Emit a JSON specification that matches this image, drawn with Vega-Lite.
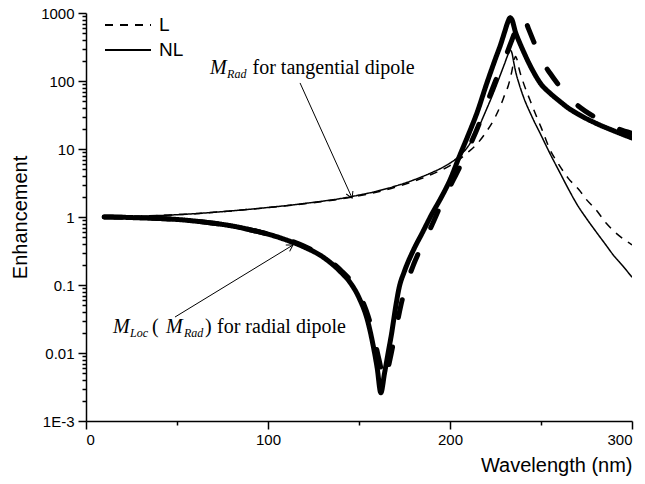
{
  "$schema": "https://vega.github.io/schema/vega-lite/v6.json",
  "width": 546,
  "height": 408,
  "autosize": {"type": "none"},
  "padding": {"left": 86, "top": 13, "right": 13, "bottom": 63},
  "background": "white",
  "config": {
    "view": {"stroke": null},
    "axis": {
      "domainColor": "black", "tickColor": "black", "labelColor": "black", "titleColor": "black",
      "labelFont": "Liberation Sans", "titleFont": "Liberation Sans",
      "labelFontSize": 15, "titleFontSize": 20, "titleFontWeight": "normal",
      "domainWidth": 1.5, "tickWidth": 1.5, "grid": false
    }
  },
  "datasets": {
    "curves": [
      {"dipole": "radial", "model": "NL", "lam": 10, "val": 1.0},
      {"dipole": "radial", "model": "NL", "lam": 20, "val": 0.99},
      {"dipole": "radial", "model": "NL", "lam": 30, "val": 0.97},
      {"dipole": "radial", "model": "NL", "lam": 40, "val": 0.95},
      {"dipole": "radial", "model": "NL", "lam": 50, "val": 0.92},
      {"dipole": "radial", "model": "NL", "lam": 60, "val": 0.87},
      {"dipole": "radial", "model": "NL", "lam": 70, "val": 0.81},
      {"dipole": "radial", "model": "NL", "lam": 80, "val": 0.74},
      {"dipole": "radial", "model": "NL", "lam": 90, "val": 0.65},
      {"dipole": "radial", "model": "NL", "lam": 100, "val": 0.56},
      {"dipole": "radial", "model": "NL", "lam": 110, "val": 0.46},
      {"dipole": "radial", "model": "NL", "lam": 120, "val": 0.36},
      {"dipole": "radial", "model": "NL", "lam": 130, "val": 0.26},
      {"dipole": "radial", "model": "NL", "lam": 140, "val": 0.155},
      {"dipole": "radial", "model": "NL", "lam": 145, "val": 0.11},
      {"dipole": "radial", "model": "NL", "lam": 150, "val": 0.065},
      {"dipole": "radial", "model": "NL", "lam": 155, "val": 0.028},
      {"dipole": "radial", "model": "NL", "lam": 158, "val": 0.012},
      {"dipole": "radial", "model": "NL", "lam": 160, "val": 0.006},
      {"dipole": "radial", "model": "NL", "lam": 162, "val": 0.0026},
      {"dipole": "radial", "model": "NL", "lam": 164, "val": 0.005},
      {"dipole": "radial", "model": "NL", "lam": 166, "val": 0.010},
      {"dipole": "radial", "model": "NL", "lam": 168, "val": 0.02},
      {"dipole": "radial", "model": "NL", "lam": 170, "val": 0.045},
      {"dipole": "radial", "model": "NL", "lam": 172, "val": 0.09},
      {"dipole": "radial", "model": "NL", "lam": 175, "val": 0.16},
      {"dipole": "radial", "model": "NL", "lam": 180, "val": 0.33},
      {"dipole": "radial", "model": "NL", "lam": 185, "val": 0.6},
      {"dipole": "radial", "model": "NL", "lam": 190, "val": 1.1},
      {"dipole": "radial", "model": "NL", "lam": 195, "val": 1.9},
      {"dipole": "radial", "model": "NL", "lam": 200, "val": 3.5},
      {"dipole": "radial", "model": "NL", "lam": 205, "val": 7.6},
      {"dipole": "radial", "model": "NL", "lam": 210, "val": 16},
      {"dipole": "radial", "model": "NL", "lam": 215, "val": 35},
      {"dipole": "radial", "model": "NL", "lam": 220, "val": 89},
      {"dipole": "radial", "model": "NL", "lam": 225, "val": 214},
      {"dipole": "radial", "model": "NL", "lam": 228, "val": 355},
      {"dipole": "radial", "model": "NL", "lam": 230, "val": 525},
      {"dipole": "radial", "model": "NL", "lam": 232, "val": 760},
      {"dipole": "radial", "model": "NL", "lam": 233, "val": 850},
      {"dipole": "radial", "model": "NL", "lam": 234, "val": 800},
      {"dipole": "radial", "model": "NL", "lam": 236, "val": 520},
      {"dipole": "radial", "model": "NL", "lam": 238, "val": 380},
      {"dipole": "radial", "model": "NL", "lam": 240, "val": 286},
      {"dipole": "radial", "model": "NL", "lam": 245, "val": 150},
      {"dipole": "radial", "model": "NL", "lam": 250, "val": 90},
      {"dipole": "radial", "model": "NL", "lam": 255, "val": 66},
      {"dipole": "radial", "model": "NL", "lam": 260, "val": 51},
      {"dipole": "radial", "model": "NL", "lam": 265, "val": 40},
      {"dipole": "radial", "model": "NL", "lam": 270, "val": 33},
      {"dipole": "radial", "model": "NL", "lam": 280, "val": 24},
      {"dipole": "radial", "model": "NL", "lam": 290, "val": 18.5},
      {"dipole": "radial", "model": "NL", "lam": 300, "val": 14.5},

      {"dipole": "radial", "model": "L", "lam": 10, "val": 1.0},
      {"dipole": "radial", "model": "L", "lam": 20, "val": 0.99},
      {"dipole": "radial", "model": "L", "lam": 30, "val": 0.97},
      {"dipole": "radial", "model": "L", "lam": 40, "val": 0.95},
      {"dipole": "radial", "model": "L", "lam": 50, "val": 0.92},
      {"dipole": "radial", "model": "L", "lam": 60, "val": 0.87},
      {"dipole": "radial", "model": "L", "lam": 70, "val": 0.81},
      {"dipole": "radial", "model": "L", "lam": 80, "val": 0.74},
      {"dipole": "radial", "model": "L", "lam": 90, "val": 0.65},
      {"dipole": "radial", "model": "L", "lam": 100, "val": 0.56},
      {"dipole": "radial", "model": "L", "lam": 110, "val": 0.47},
      {"dipole": "radial", "model": "L", "lam": 120, "val": 0.37},
      {"dipole": "radial", "model": "L", "lam": 130, "val": 0.27},
      {"dipole": "radial", "model": "L", "lam": 140, "val": 0.165},
      {"dipole": "radial", "model": "L", "lam": 145, "val": 0.12},
      {"dipole": "radial", "model": "L", "lam": 150, "val": 0.075},
      {"dipole": "radial", "model": "L", "lam": 155, "val": 0.035},
      {"dipole": "radial", "model": "L", "lam": 158, "val": 0.018},
      {"dipole": "radial", "model": "L", "lam": 161, "val": 0.008},
      {"dipole": "radial", "model": "L", "lam": 164, "val": 0.004},
      {"dipole": "radial", "model": "L", "lam": 167, "val": 0.008},
      {"dipole": "radial", "model": "L", "lam": 170, "val": 0.02},
      {"dipole": "radial", "model": "L", "lam": 173, "val": 0.05},
      {"dipole": "radial", "model": "L", "lam": 176, "val": 0.1},
      {"dipole": "radial", "model": "L", "lam": 180, "val": 0.2},
      {"dipole": "radial", "model": "L", "lam": 185, "val": 0.4},
      {"dipole": "radial", "model": "L", "lam": 190, "val": 0.75},
      {"dipole": "radial", "model": "L", "lam": 195, "val": 1.5},
      {"dipole": "radial", "model": "L", "lam": 200, "val": 2.8},
      {"dipole": "radial", "model": "L", "lam": 205, "val": 5.2},
      {"dipole": "radial", "model": "L", "lam": 210, "val": 10},
      {"dipole": "radial", "model": "L", "lam": 215, "val": 20},
      {"dipole": "radial", "model": "L", "lam": 220, "val": 45},
      {"dipole": "radial", "model": "L", "lam": 225, "val": 100},
      {"dipole": "radial", "model": "L", "lam": 230, "val": 210},
      {"dipole": "radial", "model": "L", "lam": 234, "val": 400},
      {"dipole": "radial", "model": "L", "lam": 237, "val": 650},
      {"dipole": "radial", "model": "L", "lam": 239, "val": 830},
      {"dipole": "radial", "model": "L", "lam": 240, "val": 870},
      {"dipole": "radial", "model": "L", "lam": 241, "val": 820},
      {"dipole": "radial", "model": "L", "lam": 243, "val": 600},
      {"dipole": "radial", "model": "L", "lam": 246, "val": 380},
      {"dipole": "radial", "model": "L", "lam": 250, "val": 210},
      {"dipole": "radial", "model": "L", "lam": 255, "val": 130},
      {"dipole": "radial", "model": "L", "lam": 260, "val": 85},
      {"dipole": "radial", "model": "L", "lam": 265, "val": 58},
      {"dipole": "radial", "model": "L", "lam": 270, "val": 44},
      {"dipole": "radial", "model": "L", "lam": 280, "val": 29},
      {"dipole": "radial", "model": "L", "lam": 290, "val": 21},
      {"dipole": "radial", "model": "L", "lam": 300, "val": 17},

      {"dipole": "tangential", "model": "NL", "lam": 10, "val": 1.0},
      {"dipole": "tangential", "model": "NL", "lam": 20, "val": 1.01},
      {"dipole": "tangential", "model": "NL", "lam": 30, "val": 1.03},
      {"dipole": "tangential", "model": "NL", "lam": 40, "val": 1.05},
      {"dipole": "tangential", "model": "NL", "lam": 50, "val": 1.08},
      {"dipole": "tangential", "model": "NL", "lam": 60, "val": 1.12},
      {"dipole": "tangential", "model": "NL", "lam": 70, "val": 1.17},
      {"dipole": "tangential", "model": "NL", "lam": 80, "val": 1.23},
      {"dipole": "tangential", "model": "NL", "lam": 90, "val": 1.3},
      {"dipole": "tangential", "model": "NL", "lam": 100, "val": 1.38},
      {"dipole": "tangential", "model": "NL", "lam": 110, "val": 1.47},
      {"dipole": "tangential", "model": "NL", "lam": 120, "val": 1.58},
      {"dipole": "tangential", "model": "NL", "lam": 130, "val": 1.71},
      {"dipole": "tangential", "model": "NL", "lam": 140, "val": 1.87},
      {"dipole": "tangential", "model": "NL", "lam": 150, "val": 2.1},
      {"dipole": "tangential", "model": "NL", "lam": 160, "val": 2.4},
      {"dipole": "tangential", "model": "NL", "lam": 170, "val": 2.85},
      {"dipole": "tangential", "model": "NL", "lam": 180, "val": 3.5},
      {"dipole": "tangential", "model": "NL", "lam": 190, "val": 4.5},
      {"dipole": "tangential", "model": "NL", "lam": 195, "val": 5.2},
      {"dipole": "tangential", "model": "NL", "lam": 200, "val": 6.2},
      {"dipole": "tangential", "model": "NL", "lam": 205, "val": 7.8},
      {"dipole": "tangential", "model": "NL", "lam": 210, "val": 11},
      {"dipole": "tangential", "model": "NL", "lam": 215, "val": 19},
      {"dipole": "tangential", "model": "NL", "lam": 220, "val": 38},
      {"dipole": "tangential", "model": "NL", "lam": 225, "val": 80},
      {"dipole": "tangential", "model": "NL", "lam": 228, "val": 130},
      {"dipole": "tangential", "model": "NL", "lam": 230, "val": 180},
      {"dipole": "tangential", "model": "NL", "lam": 232, "val": 250},
      {"dipole": "tangential", "model": "NL", "lam": 233, "val": 285},
      {"dipole": "tangential", "model": "NL", "lam": 234, "val": 260},
      {"dipole": "tangential", "model": "NL", "lam": 235, "val": 190},
      {"dipole": "tangential", "model": "NL", "lam": 236, "val": 140},
      {"dipole": "tangential", "model": "NL", "lam": 238, "val": 90},
      {"dipole": "tangential", "model": "NL", "lam": 240, "val": 62},
      {"dipole": "tangential", "model": "NL", "lam": 245, "val": 30},
      {"dipole": "tangential", "model": "NL", "lam": 250, "val": 16},
      {"dipole": "tangential", "model": "NL", "lam": 255, "val": 8.5},
      {"dipole": "tangential", "model": "NL", "lam": 260, "val": 4.7},
      {"dipole": "tangential", "model": "NL", "lam": 265, "val": 2.6},
      {"dipole": "tangential", "model": "NL", "lam": 270, "val": 1.5},
      {"dipole": "tangential", "model": "NL", "lam": 275, "val": 0.95},
      {"dipole": "tangential", "model": "NL", "lam": 280, "val": 0.62},
      {"dipole": "tangential", "model": "NL", "lam": 285, "val": 0.41},
      {"dipole": "tangential", "model": "NL", "lam": 290, "val": 0.27},
      {"dipole": "tangential", "model": "NL", "lam": 295, "val": 0.19},
      {"dipole": "tangential", "model": "NL", "lam": 300, "val": 0.13},

      {"dipole": "tangential", "model": "L", "lam": 10, "val": 1.0},
      {"dipole": "tangential", "model": "L", "lam": 20, "val": 1.01},
      {"dipole": "tangential", "model": "L", "lam": 30, "val": 1.03},
      {"dipole": "tangential", "model": "L", "lam": 40, "val": 1.05},
      {"dipole": "tangential", "model": "L", "lam": 50, "val": 1.08},
      {"dipole": "tangential", "model": "L", "lam": 60, "val": 1.12},
      {"dipole": "tangential", "model": "L", "lam": 70, "val": 1.17},
      {"dipole": "tangential", "model": "L", "lam": 80, "val": 1.23},
      {"dipole": "tangential", "model": "L", "lam": 90, "val": 1.3},
      {"dipole": "tangential", "model": "L", "lam": 100, "val": 1.37},
      {"dipole": "tangential", "model": "L", "lam": 110, "val": 1.46},
      {"dipole": "tangential", "model": "L", "lam": 120, "val": 1.56},
      {"dipole": "tangential", "model": "L", "lam": 130, "val": 1.69},
      {"dipole": "tangential", "model": "L", "lam": 140, "val": 1.84},
      {"dipole": "tangential", "model": "L", "lam": 150, "val": 2.05},
      {"dipole": "tangential", "model": "L", "lam": 160, "val": 2.33},
      {"dipole": "tangential", "model": "L", "lam": 170, "val": 2.75},
      {"dipole": "tangential", "model": "L", "lam": 180, "val": 3.35},
      {"dipole": "tangential", "model": "L", "lam": 190, "val": 4.25},
      {"dipole": "tangential", "model": "L", "lam": 200, "val": 5.7},
      {"dipole": "tangential", "model": "L", "lam": 205, "val": 7},
      {"dipole": "tangential", "model": "L", "lam": 210, "val": 9},
      {"dipole": "tangential", "model": "L", "lam": 215, "val": 12},
      {"dipole": "tangential", "model": "L", "lam": 220, "val": 18},
      {"dipole": "tangential", "model": "L", "lam": 225, "val": 30},
      {"dipole": "tangential", "model": "L", "lam": 228, "val": 45},
      {"dipole": "tangential", "model": "L", "lam": 230, "val": 62},
      {"dipole": "tangential", "model": "L", "lam": 232, "val": 85},
      {"dipole": "tangential", "model": "L", "lam": 234, "val": 140},
      {"dipole": "tangential", "model": "L", "lam": 235, "val": 190},
      {"dipole": "tangential", "model": "L", "lam": 236, "val": 230},
      {"dipole": "tangential", "model": "L", "lam": 237, "val": 200},
      {"dipole": "tangential", "model": "L", "lam": 238, "val": 150},
      {"dipole": "tangential", "model": "L", "lam": 240, "val": 100},
      {"dipole": "tangential", "model": "L", "lam": 244, "val": 52},
      {"dipole": "tangential", "model": "L", "lam": 248, "val": 28},
      {"dipole": "tangential", "model": "L", "lam": 250, "val": 21},
      {"dipole": "tangential", "model": "L", "lam": 255, "val": 9.7},
      {"dipole": "tangential", "model": "L", "lam": 260, "val": 5.8},
      {"dipole": "tangential", "model": "L", "lam": 265, "val": 3.7},
      {"dipole": "tangential", "model": "L", "lam": 271, "val": 2.5},
      {"dipole": "tangential", "model": "L", "lam": 275, "val": 1.8},
      {"dipole": "tangential", "model": "L", "lam": 280, "val": 1.3},
      {"dipole": "tangential", "model": "L", "lam": 286, "val": 0.8},
      {"dipole": "tangential", "model": "L", "lam": 290, "val": 0.62},
      {"dipole": "tangential", "model": "L", "lam": 295, "val": 0.48},
      {"dipole": "tangential", "model": "L", "lam": 300, "val": 0.39}
    ],
    "symbols": [
      {"text": "M", "lam": 68.1, "val": 155},
      {"text": "M", "lam": 14.8, "val": 0.0241},
      {"text": "M", "lam": 44.0, "val": 0.0241}
    ],
    "subscripts": [
      {"text": "Rad", "lam": 77.5, "val": 127},
      {"text": "Loc", "lam": 24.2, "val": 0.0197},
      {"text": "Rad", "lam": 53.8, "val": 0.0197}
    ],
    "words": [
      {"text": "for tangential dipole", "lam": 91.5, "val": 155},
      {"text": "(", "lam": 36.3, "val": 0.0241},
      {"text": ")", "lam": 65.4, "val": 0.0241},
      {"text": "for radial dipole", "lam": 72.0, "val": 0.0241}
    ],
    "arrows": [
      {"name": "tangential", "lam": 117.6, "val": 93.6, "lam2": 146.2, "val2": 1.9},
      {"name": "radial", "lam": 48.9, "val": 0.0338, "lam2": 113.7, "val2": 0.387}
    ]
  },
  "layer": [
    {
      "data": {"name": "curves"},
      "transform": [{"filter": "datum.dipole == 'radial'"}],
      "mark": {"type": "line", "strokeWidth": 5, "color": "black", "interpolate": "monotone", "strokeCap": "round", "clip": true},
      "encoding": {
        "x": {"field": "lam", "type": "quantitative", "scale": {"domain": [0, 300], "nice": false},
          "axis": {
            "values": [0, 50, 100, 150, 200, 250, 300],
            "labelExpr": "datum.value % 100 == 0 ? datum.label : ''",
            "tickSize": {"condition": {"test": "datum.value % 100 == 0", "value": 8}, "value": 4},
            "labelPadding": 3,
            "title": "Wavelength (nm)",
            "titleAnchor": "end",
            "titlePadding": 8
          }},
        "y": {"field": "val", "type": "quantitative", "scale": {"type": "log", "domain": [0.001, 1000], "nice": false},
          "axis": {
            "values": [0.001,0.002,0.003,0.004,0.005,0.006,0.007,0.008,0.009,0.01,0.02,0.03,0.04,0.05,0.06,0.07,0.08,0.09,0.1,0.2,0.3,0.4,0.5,0.6,0.7,0.8,0.9,1,2,3,4,5,6,7,8,9,10,20,30,40,50,60,70,80,90,100,200,300,400,500,600,700,800,900,1000],
            "labelExpr": "datum.value < 0.0015 ? '1E-3' : (abs(log(datum.value)/LN10 - round(log(datum.value)/LN10)) < 0.001 ? toString(datum.value) : '')",
            "tickSize": {"condition": {"test": "abs(log(datum.value)/LN10 - round(log(datum.value)/LN10)) < 0.001", "value": 8}, "value": 4},
            "labelPadding": 4,
            "title": "Enhancement",
            "titlePadding": 10
          }},
        "detail": {"field": "model"},
        "strokeDash": {"field": "model", "type": "nominal", "scale": {"domain": ["L", "NL"], "range": [[18, 30], [1, 0]]}, "legend": null},
        "order": {"field": "lam", "type": "quantitative"}
      }
    },
    {
      "data": {"name": "curves"},
      "transform": [{"filter": "datum.dipole == 'tangential'"}],
      "mark": {"type": "line", "strokeWidth": 1.5, "color": "black", "interpolate": "monotone", "clip": true},
      "encoding": {
        "x": {"field": "lam", "type": "quantitative"},
        "y": {"field": "val", "type": "quantitative"},
        "strokeDash": {"field": "model", "type": "nominal", "scale": {"domain": ["L", "NL"], "range": [[8, 7], [1, 0]]},
          "legend": {"orient": "none", "legendX": 31, "legendY": 1, "title": null, "labelFont": "Liberation Sans", "labelFontSize": 19, "labelColor": "black",
            "symbolType": "M -2.3 0 L 2.3 0", "symbolSize": 400, "symbolStrokeWidth": 2, "symbolStrokeColor": "black", "symbolFillColor": "transparent", "labelOffset": 20, "rowPadding": 4, "padding": 0}},
        "order": {"field": "lam", "type": "quantitative"}
      }
    },
    {
      "data": {"name": "arrows"},
      "mark": {"type": "rule", "color": "black", "strokeWidth": 1},
      "encoding": {
        "x": {"field": "lam", "type": "quantitative"},
        "y": {"field": "val", "type": "quantitative"},
        "x2": {"field": "lam2"},
        "y2": {"field": "val2"}
      }
    },
    {
      "data": {"name": "arrows"},
      "transform": [{"filter": "datum.name == 'tangential'"}],
      "mark": {"type": "point", "shape": "M -1 -0.6 L 0 0 L -1 0.6", "filled": false, "stroke": "black", "strokeWidth": 1, "size": 150, "angle": 65.7, "opacity": 1},
      "encoding": {
        "x": {"field": "lam2", "type": "quantitative"},
        "y": {"field": "val2", "type": "quantitative"}
      }
    },
    {
      "data": {"name": "arrows"},
      "transform": [{"filter": "datum.name == 'radial'"}],
      "mark": {"type": "point", "shape": "M -1 -0.6 L 0 0 L -1 0.6", "filled": false, "stroke": "black", "strokeWidth": 1, "size": 150, "angle": 328.6, "opacity": 1},
      "encoding": {
        "x": {"field": "lam2", "type": "quantitative"},
        "y": {"field": "val2", "type": "quantitative"}
      }
    },
    {
      "data": {"name": "symbols"},
      "mark": {"type": "text", "align": "left", "baseline": "middle", "font": "Liberation Serif", "fontStyle": "italic", "fontSize": 20, "color": "black"},
      "encoding": {
        "x": {"field": "lam", "type": "quantitative"},
        "y": {"field": "val", "type": "quantitative"},
        "text": {"field": "text"}
      }
    },
    {
      "data": {"name": "subscripts"},
      "mark": {"type": "text", "align": "left", "baseline": "middle", "font": "Liberation Serif", "fontStyle": "italic", "fontSize": 12, "color": "black"},
      "encoding": {
        "x": {"field": "lam", "type": "quantitative"},
        "y": {"field": "val", "type": "quantitative"},
        "text": {"field": "text"}
      }
    },
    {
      "data": {"name": "words"},
      "mark": {"type": "text", "align": "left", "baseline": "middle", "font": "Liberation Serif", "fontSize": 20, "color": "black"},
      "encoding": {
        "x": {"field": "lam", "type": "quantitative"},
        "y": {"field": "val", "type": "quantitative"},
        "text": {"field": "text"}
      }
    }
  ],
  "resolve": {"scale": {"strokeDash": "independent"}}
}
